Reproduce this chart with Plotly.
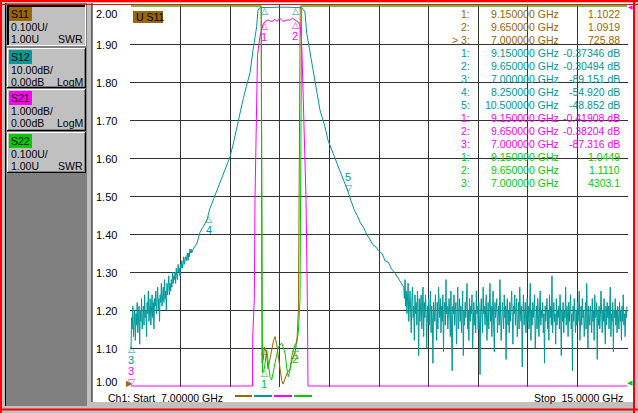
import numpy as np
import plotly.graph_objects as go

# ---------------- data ----------------
F_START, F_STOP = 7.0, 15.0
x_grid = [7.0, 7.8, 8.6, 9.4, 10.2, 11.0, 11.8, 12.6, 13.4, 14.2, 15.0]
y_grid = [1.0, 1.1, 1.2, 1.3, 1.4, 1.5, 1.6, 1.7, 1.8, 1.9, 2.0]
y_tick_text = ["1.00", "1.10", "1.20", "1.30", "1.40", "1.50", "1.60", "1.70", "1.80", "1.90", "2.00"]

# S12 (LogM, dB) - noisy low-frequency part, sweep 7.00 .. 7.99 GHz step 0.01
s12_left_f0, s12_left_step = 7.00, 0.01
s12_left_db = [-90, -82, -85, -79, -87, -83, -80, -88, -81, -84,
               -78, -86, -82, -79, -89, -80, -83, -77, -85, -81,
               -79, -84, -76, -82, -80, -87, -78, -81, -75, -83,
               -79, -77, -84, -80, -76, -82, -78, -85, -77, -79,
               -75, -81, -78, -74, -80, -77, -83, -76, -78, -73,
               -79, -76, -74, -78, -72, -77, -75, -80, -73, -76,
               -74, -71, -76, -73, -75, -72, -74, -70, -73, -71,
               -72, -70, -73, -69, -71, -72, -68, -70, -69, -71,
               -68, -69, -67, -69, -68, -66, -68, -67, -66, -67,
               -66, -65, -67, -65, -66, -64, -65, -64, -65, -64]
# S12 skirts and passband
s12_mid_f = [8.00, 8.065, 8.113, 8.16, 8.226, 8.27, 8.323, 8.38, 8.435, 8.516,
             8.597, 8.65, 8.70, 8.75, 8.806, 8.86, 8.919, 8.968, 9.00, 9.027,
             9.048, 9.07, 9.10, 9.15, 9.20, 9.30, 9.40, 9.50, 9.60, 9.65,
             9.70, 9.74, 9.753, 9.806, 9.834, 9.875, 9.915, 9.968, 10.048, 10.129,
             10.177, 10.258, 10.371, 10.452, 10.50, 10.55, 10.60, 10.65, 10.70, 10.75,
             10.80, 10.85, 10.90, 10.95, 11.00, 11.05, 11.10, 11.15, 11.20, 11.25,
             11.30, 11.35]
s12_mid_db = [-64.0, -62.4, -59.5, -58.2, -56.3, -53.4, -51.1, -48.8, -46.6, -43.2,
              -39.7, -36.2, -32.3, -28.6, -24.7, -21.2, -17.6, -11.6, -8.0, -5.4,
              -1.1, -0.55, -0.42, -0.37346, -0.35, -0.33, -0.32, -0.31, -0.30, -0.30494,
              -0.34, -0.45, -0.5, -1.6, -7.1, -11.0, -15.1, -20.3, -27.4, -31.8,
              -35.3, -38.7, -43.2, -46.8, -48.852, -51.3, -53.6, -55.2, -57.1, -58.2,
              -60.1, -61.3, -62.8, -63.4, -64.6, -65.2, -67.1, -67.4, -69.2, -70.1,
              -71.3, -72.8]
# S12 noisy high-frequency tail, sweep 11.40 .. 15.00 GHz step 0.01
s12_tail_f0, s12_tail_step = 11.40, 0.01
s12_tail_db = [-74, -77, -72, -79, -75, -81, -76, -73, -83, -78,
               -75, -80, -86, -77, -74, -82, -79, -88, -76, -81,
               -78, -84, -75, -80, -92, -77, -83, -79, -76, -85,
               -80, -74, -87, -78, -82, -76, -81, -90, -79, -83,
               -77, -84, -80, -75, -86, -79, -82, -94, -78, -80,
               -83, -76, -81, -88, -78, -85, -74, -80, -82, -77,
               -86, -79, -83, -76, -91, -80, -78, -84, -72, -81,
               -79, -85, -82, -77, -80, -87, -75, -83, -96, -79,
               -81, -76, -84, -80, -78, -89, -82, -74, -85, -80,
               -77, -83, -79, -86, -81, -75, -92, -80, -84, -78,
               -82, -79, -73, -85, -80, -88, -77, -83, -79, -81,
               -76, -90, -82, -78, -84, -80, -86, -75, -81, -79,
               -85, -78, -83, -97, -80, -77, -82, -86, -74, -81,
               -79, -84, -80, -76, -88, -82, -78, -85, -81, -73,
               -83, -79, -87, -80, -75, -84, -91, -78, -82, -80,
               -77, -86, -81, -79, -84, -72, -80, -88, -83, -78,
               -81, -85, -76, -82, -79, -93, -80, -77, -84, -80,
               -86, -78, -83, -80, -75, -82, -89, -79, -81, -76,
               -84, -80, -77, -87, -82, -78, -85, -74, -80, -83,
               -79, -95, -81, -76, -84, -80, -78, -86, -82, -77,
               -83, -79, -85, -81, -73, -88, -80, -84, -78, -82,
               -80, -76, -90, -83, -79, -85, -77, -81, -87, -79,
               -75, -84, -80, -82, -78, -86, -81, -94, -79, -83,
               -81, -77, -85, -80, -88, -76, -82, -79, -84, -71,
               -86, -80, -78, -83, -81, -89, -77, -84, -80, -82,
               -79, -85, -76, -81, -92, -80, -83, -78, -86, -80,
               -82, -74, -84, -79, -81, -87, -78, -83, -80, -76,
               -85, -81, -96, -79, -83, -77, -82, -86, -80, -84,
               -78, -83, -80, -75, -88, -81, -79, -84, -77, -82,
               -80, -87, -82, -78, -85, -73, -81, -90, -79, -83,
               -84, -79, -81, -86, -77, -83, -80, -88, -76, -82,
               -81, -78, -93, -80, -84, -79, -85, -82, -75, -80,
               -86, -80, -83, -77, -81, -89, -79, -84, -78, -82,
               -79, -85, -80, -74, -87, -81, -83, -78, -91, -80,
               -82, -77, -84, -80, -86, -79, -81, -85, -78, -83,
               -80, -88, -79, -83, -76, -84, -81, -87, -80, -82,
               -79]

# S21 (LogM, dB)
s21_f = [7.0, 7.5, 8.0, 8.5, 8.8, 8.9, 8.94, 8.96, 8.963, 8.989,
         9.0, 9.024, 9.04, 9.08, 9.124, 9.161, 9.21, 9.27, 9.323, 9.355,
         9.403, 9.452, 9.511, 9.565, 9.608, 9.645, 9.694, 9.726, 9.75, 9.758,
         9.782, 9.823, 9.844, 9.85, 9.855, 9.9, 10.0, 10.2, 10.5, 11.0,
         12.0, 13.0, 14.0, 15.0]
s21_db = [-87.316, -86.5, -84.0, -70.0, -40.0, -22.0, -14.0, -10.0, -8.7, -7.7,
          -5.1, -2.47, -1.3, -0.8, -0.50, -0.41, -0.37, -0.41, -0.35, -0.41,
          -0.32, -0.41, -0.37, -0.37, -0.32, -0.37, -0.42, -0.50, -0.89, -1.24,
          -2.47, -5.1, -7.7, -9.9, -10.5, -20.0, -35.0, -55.0, -70.0, -80.0,
          -85.0, -86.0, -87.0, -88.0]

# S11 (SWR)
s11_f = [7.0, 8.0, 8.8, 9.0, 9.08, 9.10, 9.113, 9.135, 9.15, 9.18,
         9.21, 9.24, 9.274, 9.30, 9.323, 9.35, 9.371, 9.40, 9.43, 9.452,
         9.484, 9.52, 9.565, 9.60, 9.65, 9.68, 9.70, 9.715, 9.73, 9.8,
         10.5, 12.0, 15.0]
s11_swr = [725.88, 400, 80, 15, 4.0, 2.2, 1.06, 1.07, 1.1022, 1.09,
           1.045, 1.07, 1.10, 1.12, 1.13, 1.11, 1.085, 1.045, 1.015, 1.005,
           1.02, 1.035, 1.045, 1.07, 1.0919, 1.13, 1.2, 1.5, 2.5, 20,
           300, 700, 900]

# S22 (SWR)
s22_f = [7.0, 8.0, 8.8, 9.0, 9.09, 9.10, 9.121, 9.15, 9.189, 9.242,
         9.269, 9.323, 9.376, 9.431, 9.484, 9.511, 9.537, 9.565, 9.592, 9.618,
         9.65, 9.673, 9.698, 9.726, 9.753, 9.85, 11.0, 15.0]
s22_swr = [4303.1, 1500, 200, 30, 4.0, 2.5, 1.035, 1.0449, 1.095, 1.024,
           1.016, 1.06, 1.103, 1.113, 1.087, 1.05, 1.024, 1.042, 1.077, 1.095,
           1.111, 1.113, 1.14, 1.226, 2.5, 30, 800, 4000]

# marker table values
mk_s11_f = [9.15, 9.65, 7.0]
mk_s11_v = [1.1022, 1.0919, 725.88]
mk_s12_f = [9.15, 9.65, 7.0, 8.25, 10.5]
mk_s12_v = [-0.37346, -0.30494, -89.151, -54.920, -48.852]
mk_s21_f = [9.15, 9.65, 7.0]
mk_s21_v = [-0.41908, -0.38204, -87.316]
mk_s22_f = [9.15, 9.65, 7.0]
mk_s22_v = [1.0449, 1.1110, 4303.1]
active_marker = ("S11", 2)

# ---------------- styles ----------------
BROWN, TEAL, MAGENTA, GREEN = "#996600", "#009999", "#ff00ff", "#00cc00"
FONT = "Liberation Sans, Arial, sans-serif"
GLYPH_FONT = "DejaVu Sans, sans-serif"
FS = 10.5

W, H = 638, 413
PX_L, PX_R, PX_T, PX_B = 130, 628, 5, 387      # plot area in pixels
X_PAD = 1.0 / 62.0                                # 1 px in GHz
Y_PAD = 1.0 / 380.0                               # 1 px in display units


def fx(p):
    return (p - PX_L) / (PX_R - PX_L)


def fy(p):
    return (PX_B - p) / (PX_B - PX_T)


def swr_disp(v):
    return np.clip(np.asarray(v, dtype=float), 1.0, 2.0)


def db_disp(v, per_div):
    return np.clip(2.0 + np.asarray(v, dtype=float) / per_div * 0.1, 1.0, 2.0)


s12_f = (list(np.round(s12_left_f0 + s12_left_step * np.arange(len(s12_left_db)), 4))
         + s12_mid_f
         + list(np.round(s12_tail_f0 + s12_tail_step * np.arange(len(s12_tail_db)), 4)))
s12_db = s12_left_db + s12_mid_db + s12_tail_db

fig = go.Figure()
line_w = 1
fig.add_trace(go.Scatter(x=s11_f, y=swr_disp(s11_swr), mode="lines",
                         line=dict(color=BROWN, width=line_w), hoverinfo="skip"))
fig.add_trace(go.Scatter(x=s12_f, y=db_disp(s12_db, 10), mode="lines",
                         line=dict(color=TEAL, width=line_w), hoverinfo="skip"))
fig.add_trace(go.Scatter(x=s21_f, y=db_disp(s21_db, 1), mode="lines",
                         line=dict(color=MAGENTA, width=line_w), hoverinfo="skip"))
fig.add_trace(go.Scatter(x=s22_f, y=swr_disp(s22_swr), mode="lines",
                         line=dict(color=GREEN, width=line_w), hoverinfo="skip"))

shapes = []
annotations = []


def rect(x0, y0, x1, y1, fill, layer="below", line_color=None, lw=0):
    shapes.append(dict(type="rect", xref="paper", yref="paper",
                       x0=fx(x0), x1=fx(x1), y0=fy(y1), y1=fy(y0),
                       fillcolor=fill, layer=layer,
                       line=dict(color=line_color or fill, width=lw)))


def hline(x0, x1, y, color, w=1, layer="above"):
    shapes.append(dict(type="line", xref="paper", yref="paper",
                       x0=fx(x0), x1=fx(x1), y0=fy(y), y1=fy(y),
                       layer=layer, line=dict(color=color, width=w)))


def vline(x, y0, y1, color, w=1, layer="above"):
    shapes.append(dict(type="line", xref="paper", yref="paper",
                       x0=fx(x), x1=fx(x), y0=fy(y0), y1=fy(y1),
                       layer=layer, line=dict(color=color, width=w)))


def text(px, py, s, color="black", anchor="left", size=FS, family=FONT):
    annotations.append(dict(xref="paper", yref="paper", x=fx(px), y=fy(py),
                            text=s, showarrow=False, xanchor=anchor, yanchor="middle",
                            font=dict(family=family, size=size, color=color),
                            borderpad=0))


# window background pieces
rect(92, 3, 633, 402, "white")
vline(92, 3, 402, "black")
rect(87, 3, 92, 406, "#c0c0c0")
rect(5, 3, 87, 406, "#808080")
vline(5.5, 3, 406, "black", 1, "below")

# channel buttons in the left panel
buttons = [
    ("S11", BROWN, "0.100U/", "1.00U", "SWR", 5, 46, True),
    ("S12", TEAL, "10.00dB/", "0.00dB", "LogM", 48, 88, False),
    ("S21", MAGENTA, "1.000dB/", "0.00dB", "LogM", 89, 131, False),
    ("S22", GREEN, "0.100U/", "1.00U", "SWR", 132, 173, False),
]
for name, col, l2, l3a, l3b, y0, y1, sel in buttons:
    rect(7, y0, 86, y1, "#c0c0c0", "above")
    tl, br = ("black", "white") if sel else ("white", "black")
    wtl = 2 if sel else 1
    hline(7, 86, y0 + 0.5 * wtl, tl, wtl)
    vline(7 + 0.5 * wtl, y0, y1, tl, wtl)
    hline(7, 86, y1 - 0.5, br, 1)
    vline(85.5, y0, y1, br, 1)
    if not sel:
        hline(8, 85, y1 - 1.5, "#808080", 1)
        vline(84.5, y0 + 1, y1 - 1, "#808080", 1)
    rect(9, y0 + 2, 32, y0 + 16, col, "above")
    text(10, y0 + 9, name)
    text(10, y0 + 22, l2)
    text(10, y0 + 33.5, l3a)
    text(84, y0 + 33.5, l3b, anchor="right")

# trace title box in plot
rect(133, 11, 163, 23, BROWN, "above")
text(135, 17, "U S11")

# bottom status line
text(107, 397.5, "Ch1: Start\u00a0\u00a07.00000 GHz")
text(624, 397.5, "Stop\u00a0\u00a015.0000 GHz", anchor="right")
for (xa, xb), col in zip([(235, 252), (254, 272), (274, 292), (294, 312)],
                         [BROWN, TEAL, MAGENTA, GREEN]):
    hline(xa, xb, 396, col, 2)

# red window frame
hline(0, 638, 1, "#ff0000", 2)
hline(0, 638, 4.5, "#ff0000", 1)
vline(1, 0, 413, "#ff0000", 2)
vline(634, 0, 413, "#ff0000", 2)
hline(0, 638, 409.5, "#ff0000", 2)

# y tick labels
for v, t in zip(y_grid, y_tick_text):
    shift = -8 if t == "2.00" else (4 if t == "1.00" else -1)
    annotations.append(dict(xref="paper", yref="y", x=fx(118), y=v, text=t,
                            showarrow=False, xanchor="right", yanchor="middle",
                            yshift=shift, borderpad=0,
                            font=dict(family=FONT, size=FS + 0.5, color="black")))

# marker table
table = [
    ("S11", BROWN, mk_s11_f, mk_s11_v, ""),
    ("S12", TEAL, mk_s12_f, mk_s12_v, " dB"),
    ("S21", MAGENTA, mk_s21_f, mk_s21_v, " dB"),
    ("S22", GREEN, mk_s22_f, mk_s22_v, ""),
]
row = 0
for name, col, fs_, vs_, unit in table:
    for i, (f, v) in enumerate(zip(fs_, vs_)):
        py = 14 + 13.0 * row
        idx = f"{i + 1}:"
        if (name, i) == active_marker:
            idx = "> " + idx
        text(471, py, idx, col, "right")
        text(560, py, f"{f:.6f} GHz", col, "right")
        text(621, py, format(v, "#.5g") + unit, col, "right")
        row += 1

# marker glyphs on traces
disp = {
    "S11": lambda v: float(swr_disp(v)),
    "S12": lambda v: float(db_disp(v, 10)),
    "S21": lambda v: float(db_disp(v, 1)),
    "S22": lambda v: float(swr_disp(v)),
}
mk_data = {"S11": (BROWN, mk_s11_f, mk_s11_v), "S12": (TEAL, mk_s12_f, mk_s12_v),
           "S21": (MAGENTA, mk_s21_f, mk_s21_v), "S22": (GREEN, mk_s22_f, mk_s22_v)}
glyphs = [("S11", 0, "up", False), ("S11", 1, "up", False),
          ("S12", 0, "up", False), ("S12", 1, "up", False), ("S12", 2, "up", True),
          ("S12", 3, "up", True), ("S12", 4, "down", True),
          ("S21", 0, "up", True), ("S21", 1, "up", True), ("S21", 2, "down", True),
          ("S22", 0, "up", True), ("S22", 1, "up", True)]
for name, i, d, lab in glyphs:
    col, fs_, vs_ = mk_data[name]
    f, yv = fs_[i], disp[name](vs_[i])
    up = d == "up"
    annotations.append(dict(xref="x", yref="y", x=f, y=yv, text="△" if up else "▽",
                            showarrow=False, xanchor="center",
                            yanchor="top" if up else "bottom", yshift=2 if up else -2,
                            borderpad=0, font=dict(family=GLYPH_FONT, size=9, color=col)))
    if lab:
        annotations.append(dict(xref="x", yref="y", x=f, y=yv, text=str(i + 1),
                                showarrow=False, xanchor="center",
                                yanchor="top" if up else "bottom",
                                yshift=-8 if up else 8, borderpad=0,
                                font=dict(family=FONT, size=FS + 0.5, color=col)))

# reference level indicators
text(129.5, 383, "▶", BROWN, "center", 8, GLYPH_FONT)
text(630, 383, "◀", GREEN, "center", 7, GLYPH_FONT)
text(630, 7, "◀", MAGENTA, "center", 6, GLYPH_FONT)

fig.update_layout(
    width=W, height=H,
    margin=dict(l=PX_L, r=W - PX_R, t=PX_T, b=H - PX_B, pad=0),
    paper_bgcolor="#c0c0c0", plot_bgcolor="white",
    showlegend=False,
    xaxis=dict(range=[F_START - X_PAD, F_STOP + X_PAD], tickvals=x_grid,
               showticklabels=False, ticks="", showgrid=True, gridcolor="#333333",
               gridwidth=1, zeroline=False, showline=False, fixedrange=True),
    yaxis=dict(range=[1.0 - Y_PAD, 2.0 + Y_PAD], tickvals=y_grid,
               showticklabels=False, ticks="", showgrid=True, gridcolor="#333333",
               gridwidth=1, zeroline=False, showline=False, fixedrange=True),
    shapes=shapes, annotations=annotations,
    font=dict(family=FONT, size=FS),
)

fig.write_html("out.html", config={"displayModeBar": False, "staticPlot": True},
               post_script="document.body.style.margin='0px';"
                           "document.body.style.overflow='hidden';")
